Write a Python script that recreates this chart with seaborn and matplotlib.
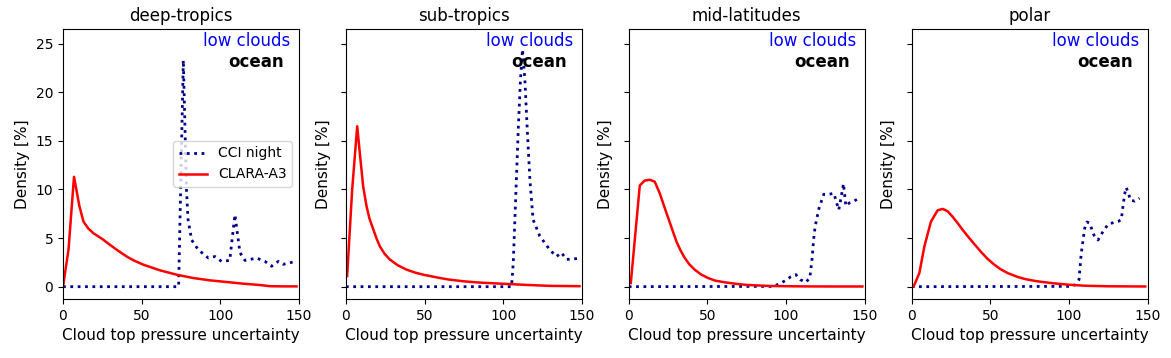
import numpy as np
import pandas as pd
import matplotlib
matplotlib.use("Agg")
import matplotlib.pyplot as plt
import seaborn as sns

regions = ["deep-tropics", "sub-tropics", "mid-latitudes", "polar"]

# CLARA-A3 (red, solid)
clara_x_dt = [0, 3.5, 7, 10.4, 13, 16, 19.3, 25, 29.9, 35, 40.5, 45, 51.1, 61.7, 72.3, 82.8, 93.4, 104, 114.6, 125.2, 131.6, 140, 148.5]
clara_y_dt = [0, 3.8, 11.3, 8.3, 6.7, 6.0, 5.5, 4.9, 4.3, 3.7, 3.1, 2.7, 2.26, 1.68, 1.23, 0.89, 0.65, 0.48, 0.31, 0.17, 0.05, 0.03, 0.03]

clara_x_st = [0.8, 4, 7.2, 9, 11, 13.1, 15, 17.4, 19.5, 21.6, 24.5, 27.9, 33, 38.6, 44, 49.2, 59.8, 66, 75, 85, 100, 115, 130, 148.5]
clara_y_st = [1.1, 10, 16.5, 13.5, 10.3, 8.3, 7.0, 5.9, 4.95, 4.15, 3.4, 2.8, 2.2, 1.75, 1.45, 1.23, 0.89, 0.72, 0.55, 0.42, 0.3, 0.18, 0.08, 0.05]

clara_x_ml = [1.3, 7, 10, 13.3, 16.5, 19.7, 22, 25, 27.7, 30.3, 33, 35.6, 38.5, 41.9, 46, 50.4, 55, 61, 67.4, 75, 90, 110, 130, 148.5]
clara_y_ml = [0.38, 10.4, 10.9, 11.0, 10.8, 9.6, 8.5, 7.1, 5.85, 4.65, 3.7, 2.95, 2.3, 1.75, 1.25, 0.89, 0.62, 0.45, 0.31, 0.18, 0.07, 0.03, 0.02, 0.02]

clara_x_po = [1.3, 4.9, 8.1, 12.3, 16.5, 19.7, 22.9, 26, 29.2, 32.4, 35.6, 40, 44, 48, 52.5, 56.5, 61, 67.4, 73, 80, 90, 100, 110, 125, 148.5]
clara_y_po = [0.03, 1.4, 4.15, 6.7, 7.85, 8.0, 7.75, 7.2, 6.55, 5.85, 5.2, 4.35, 3.6, 2.9, 2.27, 1.8, 1.4, 1.0, 0.75, 0.55, 0.35, 0.2, 0.1, 0.04, 0.02]

# CCI night (dark blue, dotted)
cci_x_dt = [0, 73.5, 76.5, 78.5, 79.5, 81.8, 86, 92.4, 96.6, 100.8, 106, 109.3, 112.5, 115.7, 119, 123, 128.4, 132.6, 136.9, 140, 143, 147.5]
cci_y_dt = [0, 0, 23.3, 10.0, 6.9, 4.8, 3.8, 2.95, 3.1, 2.6, 2.7, 7.4, 3.5, 2.7, 2.8, 2.95, 2.6, 2.1, 2.6, 2.3, 2.4, 2.6]

cci_x_st = [0, 105.3, 106.4, 108, 109.6, 111, 112.3, 113.8, 115.3, 117, 119, 123.3, 129.6, 133.9, 137, 140.3, 147.7]
cci_y_st = [0, 0, 2.4, 9.3, 16.2, 21.3, 24.4, 21.3, 16.2, 11.0, 6.9, 5.2, 3.8, 3.1, 3.5, 2.8, 2.9]

cci_x_ml = [0, 91.8, 96, 99.8, 102.8, 106.2, 109.1, 112.5, 115.1, 116.6, 117.5, 118.5, 121, 124, 127, 130.4, 133.5, 134.8, 136.5, 138, 140.1, 143.1, 146.5]
cci_y_ml = [0, 0.03, 0.31, 0.65, 1.0, 1.24, 0.72, 0.45, 0.89, 2.95, 4.8, 6.2, 8.1, 9.5, 9.5, 9.6, 7.9, 9.0, 10.6, 8.3, 8.6, 8.8, 9.1]

cci_x_po = [0, 100.4, 104.3, 106.4, 107.8, 110, 111.4, 113.1, 115.9, 118.5, 120.6, 122.7, 124.8, 128.4, 131.2, 133.3, 134.3, 135.4, 136.4, 137.9, 139, 141.8, 144.9]
cci_y_po = [0, 0.03, 0.2, 0.72, 3.4, 6.0, 6.65, 6.55, 5.3, 4.8, 5.4, 5.9, 6.4, 6.6, 6.7, 6.9, 8.2, 9.5, 10.2, 9.6, 8.9, 8.8, 9.1]

clara = [(clara_x_dt, clara_y_dt), (clara_x_st, clara_y_st), (clara_x_ml, clara_y_ml), (clara_x_po, clara_y_po)]
cci = [(cci_x_dt, cci_y_dt), (cci_x_st, cci_y_st), (cci_x_ml, cci_y_ml), (cci_x_po, cci_y_po)]

x_ticks = [0, 50, 100, 150]
y_ticks = [0, 5, 10, 15, 20, 25]

fig, axes = plt.subplots(1, 4, figsize=(11.71, 3.58), dpi=100)
fig.subplots_adjust(left=0.0538, right=0.980, top=0.919, bottom=0.165, wspace=0.199)

for i, ax in enumerate(axes):
    cx, cy = cci[i]
    rx, ry = clara[i]
    sns.lineplot(x=cx, y=cy, ax=ax, color="#00008B", linestyle=":", linewidth=2,
                 estimator=None, sort=False, label="CCI night")
    sns.lineplot(x=rx, y=ry, ax=ax, color="red", linestyle="-", linewidth=1.8,
                 estimator=None, sort=False, label="CLARA-A3")
    ax.set_xlim(0, 150)
    ax.set_ylim(-1.26, 26.5)
    ax.set_xticks(x_ticks)
    ax.set_yticks(y_ticks)
    ax.set_title(regions[i], fontsize=12)
    ax.set_xlabel("Cloud top pressure uncertainty", fontsize=11)
    ax.set_ylabel("Density [%]", fontsize=11)
    if i > 0:
        ax.set_yticklabels([])
    ax.text(0.963, 0.955, "low clouds", transform=ax.transAxes, ha="right", va="center",
            color="blue", fontsize=12)
    ax.text(0.938, 0.878, "ocean", transform=ax.transAxes, ha="right", va="center",
            color="black", fontsize=12, fontweight="bold")
    if i == 0:
        ax.legend(loc="center right", fontsize=10)
    else:
        ax.get_legend().remove()

fig.savefig("out.png", dpi=100)
